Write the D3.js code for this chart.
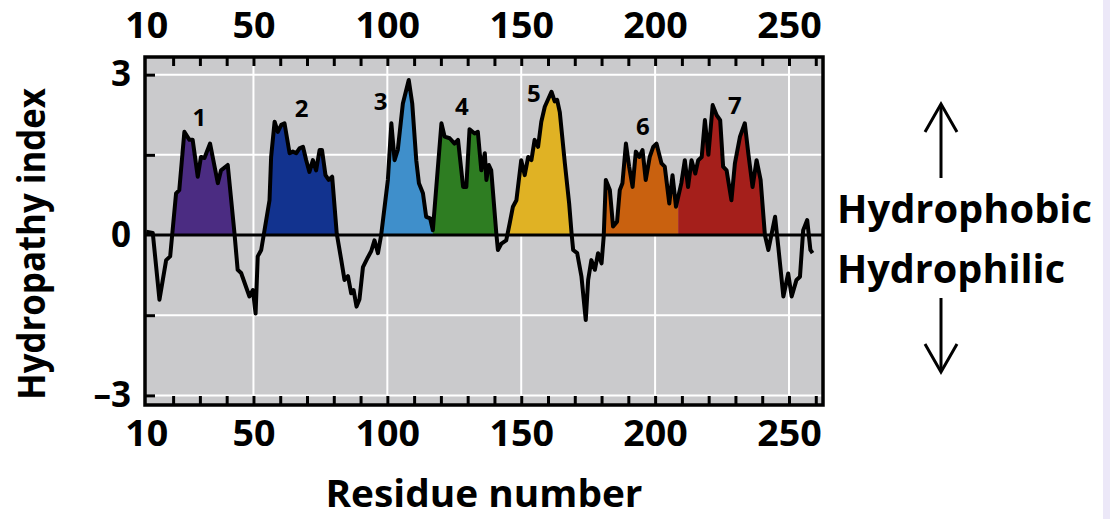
<!DOCTYPE html>
<html>
<head>
<meta charset="utf-8">
<script src="https://cdn.jsdelivr.net/npm/d3@7"></script>
<style>
  body { margin: 0; background: #fff; }
  text { font-family: "Open Sans", "Noto Sans", sans-serif; font-weight: 700; fill: #000; }
</style>
</head>
<body>
<div id="chart"></div>
<script>
// hydropathy profile
var residues = [10, 12.4, 14.9, 17.4, 18.9, 21.1, 22.3, 24.2, 25.2, 26.1, 27.3, 29.2, 30.4, 31.7, 33.8, 36.7, 37.9, 40.4, 42.9, 44.1,
  45.4, 48.5, 49.8, 50.8, 51.6, 52.9, 56.0, 56.6, 57.9, 59.1, 60.4, 61.6, 63.5, 64.7, 66.0, 67.2, 68.5, 69.7, 70.9, 72.2,
  73.4, 74.7, 75.6, 76.9, 78.1, 79.4, 81.1, 82.8, 84.0, 85.3, 86.5, 87.4, 88.5, 89.6, 90.9, 92.7, 94.0, 95.2, 96.5, 97.7,
  100.2, 101.5, 102.7, 103.9, 105.8, 108.0, 109.3, 110.8, 111.8, 113.3, 114.5, 116.0, 117.0, 120.2, 121.4, 123.3, 125.1, 126.4, 128.3, 129.5,
  130.7, 132.6, 133.8, 135.1, 136.4, 137.0, 137.9, 138.8, 140.7, 141.3, 142.6, 144.4, 145.7, 146.9, 148.2, 150.0, 151.3, 152.6, 153.8, 155.0,
  156.3, 157.5, 158.8, 161.3, 162.5, 163.4, 164.4, 166.3, 167.9, 168.8, 169.4, 170.9, 172.5, 174.1, 175.0, 176.2, 177.5, 178.7, 180.0, 180.8,
  181.6, 183.1, 184.3, 185.8, 186.8, 187.8, 189.1, 190.3, 191.6, 192.8, 194.1, 195.3, 196.5, 198.0, 199.3, 200.5, 202.4, 203.6, 205.3, 206.5,
  207.8, 209.8, 211.1, 212.3, 213.6, 215.0, 216.1, 217.4, 218.6, 219.9, 221.5, 223.0, 224.3, 225.4, 226.7, 228.5, 229.8, 231.7, 233.5, 234.8,
  236.4, 237.9, 239.4, 241.0, 242.3, 244.8, 246.0, 247.9, 249.7, 251.0, 252.8, 254.1, 255.3, 256.8, 258.0, 258.8];
var hydropathy = [0.06, 0.04, -1.21, -0.47, -0.40, 0.78, 0.84, 1.93, 1.85, 1.78, 1.78, 1.09, 1.46, 1.44, 1.71, 0.97, 1.21, 1.31, 0.04, -0.65,
  -0.71, -1.15, -1.03, -1.47, -0.40, -0.28, 0.65, 1.46, 2.12, 1.93, 2.06, 2.09, 1.53, 1.56, 1.53, 1.62, 1.65, 1.40, 1.18, 1.40,
  1.21, 1.59, 1.59, 1.12, 1.03, 1.09, 0.03, -0.47, -0.84, -0.77, -1.09, -1.03, -1.34, -1.20, -0.60, -0.42, -0.30, -0.10, -0.34, 0.00,
  1.03, 2.09, 1.40, 1.59, 2.46, 2.90, 2.46, 1.40, 0.97, 0.78, 0.34, 0.31, 0.09, 2.09, 1.84, 1.81, 1.71, 1.78, 0.90, 0.90,
  1.98, 1.90, 1.93, 1.21, 1.53, 1.03, 1.31, 1.21, 0.03, -0.28, -0.16, -0.10, 0.22, 0.53, 0.65, 1.40, 1.12, 1.46, 1.40, 1.78,
  1.65, 2.12, 2.40, 2.68, 2.50, 2.53, 2.30, 1.34, 0.59, 0.03, -0.28, -0.34, -0.78, -1.59, -0.84, -0.47, -0.65, -0.34, -0.53, -0.03,
  1.03, 0.84, 0.16, 0.25, 0.84, 0.97, 1.71, 1.28, 0.90, 1.56, 1.46, 1.59, 1.03, 1.46, 1.65, 1.71, 1.34, 1.28, 0.59, 1.12,
  0.53, 0.97, 1.40, 0.90, 1.40, 1.15, 1.40, 1.46, 2.15, 1.50, 2.43, 2.24, 2.15, 1.28, 1.21, 0.65, 1.34, 1.84, 2.09, 1.53,
  0.90, 1.40, 1.03, 0.00, -0.28, 0.34, -0.22, -1.15, -0.72, -1.15, -0.84, -0.78, 0.09, 0.28, -0.28, -0.34];

// transmembrane helices
var helixNames = ["1", "2", "3", "4", "5", "6", "7"];
var helixStart = [19, 53.5, 97, 117, 145, 180.5, 208.6];
var helixEnd = [43.5, 81.5, 117, 141, 169.5, 208.6, 241.5];
var helixColors = ["#4b2c82", "#12338f", "#3f8fcb", "#2e7d22", "#e0b224", "#c9610f", "#a51f1b"];
var labelResidue = [29.8, 68, 97.5, 127.8, 154.7, 195.4, 229.8];
var labelValue = [2.2, 2.37, 2.5, 2.41, 2.65, 2.02, 2.43];

var xLabelTicks = [10, 50, 100, 150, 200, 250];
var xMinorTicks = d3.range(20, 261, 10);
var xGrid = [50, 100, 150, 200, 250];
var yGrid = [-3, -1.5, 1.5, 3];
var yLabelTicks = [-3, 0, 3];

var W = 1110, H = 519;
var pLeft = 145, pRight = 823, pTop = 57, pBottom = 405;

var svg = d3.select("#chart").append("svg")
    .attr("width", W)
    .attr("height", H);

// faint lavender strip at right border of the picture
svg.append("rect").attr("x", 1103).attr("y", 0).attr("width", 7).attr("height", H).attr("fill", "#ece8f8");

var x = d3.scaleLinear().domain([9.5, 262.7]).range([pLeft, pRight]);
var y = d3.scaleLinear().domain([-3.18, 3.33]).range([pBottom, pTop]);

var data = residues.map(function(r, i) { return {r: r, v: hydropathy[i]}; });

svg.append("rect")
    .attr("x", pLeft).attr("y", pTop)
    .attr("width", pRight - pLeft).attr("height", pBottom - pTop)
    .attr("fill", "#cacacc");

// grid
svg.selectAll(".vgrid").data(xGrid).enter().append("line")
    .attr("x1", d => x(d)).attr("x2", d => x(d))
    .attr("y1", pTop).attr("y2", pBottom)
    .attr("stroke", "#fff").attr("stroke-width", 2);
svg.selectAll(".hgrid").data(yGrid).enter().append("line")
    .attr("x1", pLeft).attr("x2", pRight)
    .attr("y1", d => y(d)).attr("y2", d => y(d))
    .attr("stroke", "#fff").attr("stroke-width", 2);

// filled helices, clipped above zero
var area = d3.area()
    .x(d => x(d.r))
    .y0(y(0))
    .y1(d => y(d.v));

var defs = svg.append("defs");
helixNames.forEach(function(name, i) {
  defs.append("clipPath").attr("id", "clip" + i)
    .append("rect")
      .attr("x", x(helixStart[i]))
      .attr("y", pTop)
      .attr("width", x(helixEnd[i]) - x(helixStart[i]))
      .attr("height", y(0) - pTop);
  svg.append("path")
    .datum(data)
    .attr("d", area)
    .attr("fill", helixColors[i])
    .attr("clip-path", "url(#clip" + i + ")");
});

// zero line
svg.append("line")
    .attr("x1", pLeft).attr("x2", pRight)
    .attr("y1", y(0)).attr("y2", y(0))
    .attr("stroke", "#000").attr("stroke-width", 3);

// profile line
svg.append("path")
    .datum(data)
    .attr("d", d3.line().x(d => x(d.r)).y(d => y(d.v)))
    .attr("fill", "none")
    .attr("stroke", "#000")
    .attr("stroke-width", 4)
    .attr("stroke-linejoin", "round");

// inner tick marks
svg.append("g")
    .attr("transform", "translate(0," + pTop + ")")
    .call(d3.axisBottom(x).tickValues(xMinorTicks).tickSize(9).tickFormat(""))
    .call(g => g.select(".domain").remove());
svg.append("g")
    .attr("transform", "translate(0," + pBottom + ")")
    .call(d3.axisTop(x).tickValues(xMinorTicks).tickSize(9).tickFormat(""))
    .call(g => g.select(".domain").remove());
svg.append("g")
    .attr("transform", "translate(" + pLeft + ",0)")
    .call(d3.axisRight(y).tickValues(yGrid).tickSize(10).tickFormat(""))
    .call(g => g.select(".domain").remove());
svg.selectAll(".tick line").attr("stroke", "#000").attr("stroke-width", 3);

// frame
svg.append("rect")
    .attr("x", pLeft).attr("y", pTop)
    .attr("width", pRight - pLeft).attr("height", pBottom - pTop)
    .attr("fill", "none")
    .attr("stroke", "#000").attr("stroke-width", 3.5);

// tick labels
var topAxis = svg.append("g")
    .attr("transform", "translate(0," + pTop + ")")
    .call(d3.axisTop(x).tickValues(xLabelTicks).tickSize(0).tickPadding(19));
var botAxis = svg.append("g")
    .attr("transform", "translate(0," + pBottom + ")")
    .call(d3.axisBottom(x).tickValues(xLabelTicks).tickSize(0).tickPadding(16));
var leftAxis = svg.append("g")
    .attr("transform", "translate(" + pLeft + ",0)")
    .call(d3.axisLeft(y).tickValues(yLabelTicks).tickSize(0).tickPadding(14)
      .tickFormat(d => d < 0 ? "\u2013" + Math.abs(d) : String(d)));
[topAxis, botAxis, leftAxis].forEach(function(g) {
  g.select(".domain").remove();
  g.selectAll("text")
    .attr("font-family", "Open Sans, sans-serif")
    .attr("font-weight", 700)
    .attr("font-size", 35)
    .attr("fill", "#000");
});
topAxis.selectAll("text").attr("textLength", d => String(d).length * 21.5).attr("lengthAdjust", "spacingAndGlyphs");
botAxis.selectAll("text").attr("textLength", d => String(d).length * 21.5).attr("lengthAdjust", "spacingAndGlyphs");

// helix numbers
svg.selectAll(".hlabel").data(helixNames).enter().append("text")
    .attr("x", (d, i) => x(labelResidue[i]))
    .attr("y", (d, i) => y(labelValue[i]))
    .attr("dy", "0.35em")
    .attr("text-anchor", "middle")
    .attr("font-size", 24)
    .text(d => d);

// axis titles
svg.append("text")
    .attr("x", (pLeft + pRight) / 2)
    .attr("y", 507)
    .attr("text-anchor", "middle")
    .attr("font-size", 37)
    .attr("textLength", 317).attr("lengthAdjust", "spacingAndGlyphs")
    .text("Residue number");

svg.append("text")
    .attr("transform", "translate(45,244) rotate(-90)")
    .attr("text-anchor", "middle")
    .attr("font-size", 37)
    .attr("textLength", 312).attr("lengthAdjust", "spacingAndGlyphs")
    .text("Hydropathy index");

// side annotation
svg.append("text").attr("x", 837).attr("y", 223).attr("font-size", 40)
    .attr("textLength", 255).attr("lengthAdjust", "spacingAndGlyphs")
    .text("Hydrophobic");
svg.append("text").attr("x", 837).attr("y", 283).attr("font-size", 40)
    .attr("textLength", 228).attr("lengthAdjust", "spacingAndGlyphs")
    .text("Hydrophilic");

var arrows = [[178, 104], [298, 372]];
arrows.forEach(function(a) {
  var dir = a[1] < a[0] ? 1 : -1;
  svg.append("line").attr("x1", 941).attr("x2", 941).attr("y1", a[0]).attr("y2", a[1] + dir)
    .attr("stroke", "#000").attr("stroke-width", 3);
  svg.append("path")
    .attr("d", "M" + 925 + "," + (a[1] + dir * 28) + " L941," + a[1] + " L957," + (a[1] + dir * 28))
    .attr("fill", "none").attr("stroke", "#000").attr("stroke-width", 3);
});
</script>
</body>
</html>
